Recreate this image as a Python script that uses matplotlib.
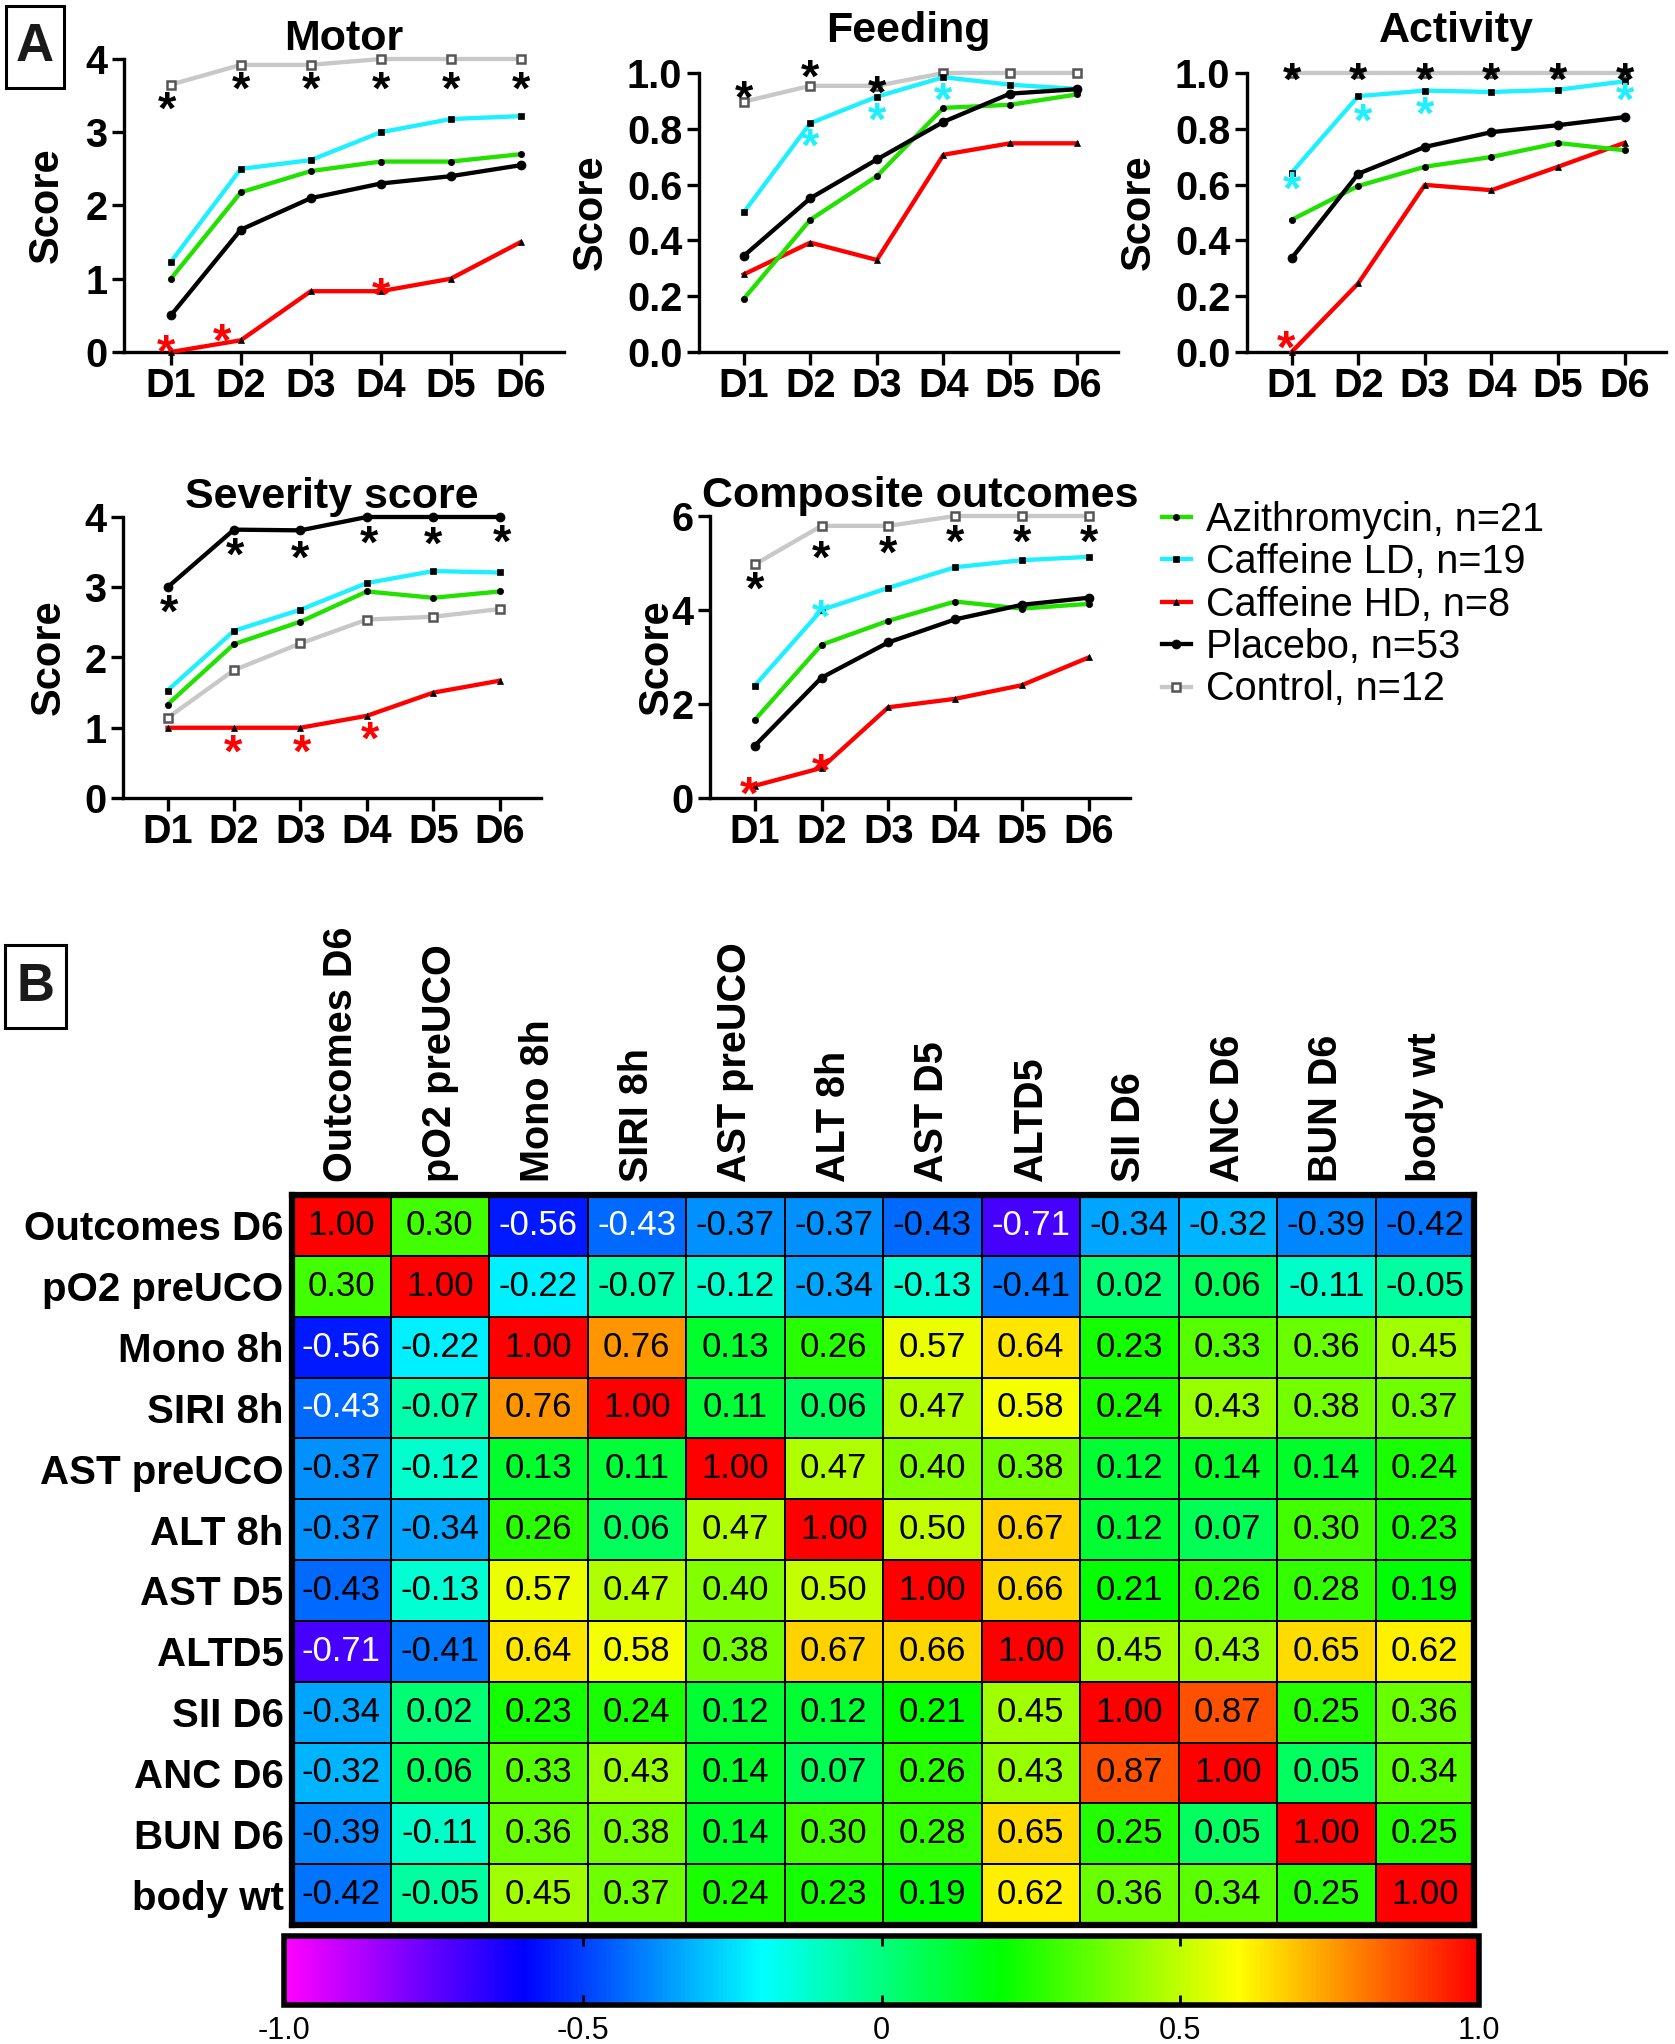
import matplotlib
matplotlib.use('Agg')
import matplotlib.pyplot as plt
import numpy as np
from matplotlib.colors import LinearSegmentedColormap
from matplotlib.patches import Rectangle

plt.rcParams['font.family'] = ['Liberation Sans', 'DejaVu Sans']
plt.rcParams['font.weight'] = 'bold'

# ---------------- data, panel A ----------------
days = [1, 2, 3, 4, 5, 6]
day_labels = ['D1', 'D2', 'D3', 'D4', 'D5', 'D6']
groups = ['azi', 'cafld', 'cafhd', 'placebo', 'control']
group_labels = ['Azithromycin, n=21', 'Caffeine LD, n=19', 'Caffeine HD, n=8',
                'Placebo, n=53', 'Control, n=12']

motor_azi = [1.0, 2.18, 2.47, 2.6, 2.6, 2.7]
motor_cafld = [1.23, 2.5, 2.62, 3.0, 3.18, 3.22]
motor_cafhd = [0.0, 0.16, 0.83, 0.83, 1.0, 1.5]
motor_placebo = [0.5, 1.67, 2.1, 2.3, 2.4, 2.55]
motor_control = [3.65, 3.92, 3.92, 4.0, 4.0, 4.0]

feed_azi = [0.19, 0.474, 0.63, 0.875, 0.886, 0.923]
feed_cafld = [0.50, 0.82, 0.915, 0.985, 0.958, 0.943]
feed_cafhd = [0.278, 0.392, 0.33, 0.707, 0.748, 0.748]
feed_placebo = [0.344, 0.551, 0.69, 0.825, 0.926, 0.942]
feed_control = [0.897, 0.954, 0.954, 1.0, 1.0, 1.0]

act_azi = [0.474, 0.595, 0.664, 0.699, 0.749, 0.723]
act_cafld = [0.643, 0.917, 0.937, 0.932, 0.94, 0.97]
act_cafhd = [0.0, 0.246, 0.599, 0.58, 0.664, 0.75]
act_placebo = [0.336, 0.639, 0.735, 0.788, 0.813, 0.842]
act_control = [1.0, 1.0, 1.0, 1.0, 1.0, 1.0]

sev_azi = [1.33, 2.19, 2.51, 2.94, 2.85, 2.94]
sev_cafld = [1.53, 2.38, 2.68, 3.06, 3.23, 3.21]
sev_cafhd = [1.0, 1.0, 1.0, 1.17, 1.5, 1.67]
sev_placebo = [3.0, 3.82, 3.81, 4.0, 4.0, 4.0]
sev_control = [1.14, 1.82, 2.2, 2.54, 2.58, 2.69]

comp_azi = [1.66, 3.26, 3.77, 4.18, 4.03, 4.13]
comp_cafld = [2.39, 4.0, 4.47, 4.91, 5.06, 5.13]
comp_cafhd = [0.26, 0.64, 1.93, 2.11, 2.40, 2.99]
comp_placebo = [1.11, 2.56, 3.31, 3.80, 4.11, 4.26]
comp_control = [4.97, 5.79, 5.79, 6.0, 6.0, 6.0]

# significance asterisks: (x, y, colour)
motor_stars = [(0.94, 3.50, 'k'), (2, 3.77, 'k'), (3, 3.77, 'k'), (4, 3.77, 'k'),
               (5, 3.77, 'k'), (6, 3.77, 'k'),
               (0.93, 0.17, 'r'), (1.73, 0.33, 'r'), (4, 0.95, 'r')]
feed_stars = [(1, 0.958, 'k'), (2, 1.032, 'k'), (3, 0.974, 'k'),
              (2, 0.783, 'c'), (3, 0.878, 'c'), (4, 0.949, 'c')]
act_stars = [(1, 1.02, 'k'), (2, 1.02, 'k'), (3, 1.02, 'k'), (4, 1.02, 'k'),
             (5, 1.02, 'k'), (6, 1.02, 'k'),
             (1, 0.629, 'c'), (2.07, 0.875, 'c'), (3, 0.901, 'c'), (6, 0.95, 'c'),
             (0.91, 0.06, 'r')]
sev_stars = [(1.03, 2.83, 'k'), (2.02, 3.64, 'k'), (2.99, 3.60, 'k'), (4.04, 3.82, 'k'),
             (5, 3.80, 'k'), (6.03, 3.83, 'k'),
             (1.99, 0.84, 'r'), (3.02, 0.84, 'r'), (4.05, 1.03, 'r')]
comp_stars = [(1, 4.72, 'k'), (2, 5.38, 'k'), (3, 5.49, 'k'), (4, 5.72, 'k'),
              (5, 5.72, 'k'), (6, 5.72, 'k'),
              (2, 4.13, 'c'),
              (0.91, 0.35, 'r'), (1.99, 0.84, 'r')]

# ---------------- data, panel B ----------------
var_labels = ['Outcomes D6', 'pO2 preUCO', 'Mono 8h', 'SIRI 8h', 'AST preUCO', 'ALT 8h',
              'AST D5', 'ALTD5', 'SII D6', 'ANC D6', 'BUN D6', 'body wt']
corr = np.array([
    [1.00, 0.30, -0.56, -0.43, -0.37, -0.37, -0.43, -0.71, -0.34, -0.32, -0.39, -0.42],
    [0.30, 1.00, -0.22, -0.07, -0.12, -0.34, -0.13, -0.41, 0.02, 0.06, -0.11, -0.05],
    [-0.56, -0.22, 1.00, 0.76, 0.13, 0.26, 0.57, 0.64, 0.23, 0.33, 0.36, 0.45],
    [-0.43, -0.07, 0.76, 1.00, 0.11, 0.06, 0.47, 0.58, 0.24, 0.43, 0.38, 0.37],
    [-0.37, -0.12, 0.13, 0.11, 1.00, 0.47, 0.40, 0.38, 0.12, 0.14, 0.14, 0.24],
    [-0.37, -0.34, 0.26, 0.06, 0.47, 1.00, 0.50, 0.67, 0.12, 0.07, 0.30, 0.23],
    [-0.43, -0.13, 0.57, 0.47, 0.40, 0.50, 1.00, 0.66, 0.21, 0.26, 0.28, 0.19],
    [-0.71, -0.41, 0.64, 0.58, 0.38, 0.67, 0.66, 1.00, 0.45, 0.43, 0.65, 0.62],
    [-0.34, 0.02, 0.23, 0.24, 0.12, 0.12, 0.21, 0.45, 1.00, 0.87, 0.25, 0.36],
    [-0.32, 0.06, 0.33, 0.43, 0.14, 0.07, 0.26, 0.43, 0.87, 1.00, 0.05, 0.34],
    [-0.39, -0.11, 0.36, 0.38, 0.14, 0.30, 0.28, 0.65, 0.25, 0.05, 1.00, 0.25],
    [-0.42, -0.05, 0.45, 0.37, 0.24, 0.23, 0.19, 0.62, 0.36, 0.34, 0.25, 1.00],
])
white_cells = [(0, 2), (2, 0), (0, 3), (3, 0), (0, 7), (7, 0)]
cbar_ticks = [-1.0, -0.5, 0, 0.5, 1.0]
cbar_ticklabels = ['-1.0', '-0.5', '0', '0.5', '1.0']

# ---------------- styles ----------------
styles = {
    'azi': dict(color='#22e000', marker='o', ms=4.5, mfc='k', mec='k', mew=0.5),
    'cafld': dict(color='#1ef0ff', marker='s', ms=4.5, mfc='k', mec='k', mew=0.5),
    'cafhd': dict(color='#ff0000', marker='^', ms=4.5, mfc='k', mec='k', mew=0.5),
    'placebo': dict(color='k', marker='o', ms=6.5, mfc='k', mec='k', mew=0.5),
    'control': dict(color='#c8c8c8', marker='s', ms=6, mfc='white', mec='#555555', mew=1.8),
}
draw_order = ['control', 'cafhd', 'azi', 'cafld', 'placebo']
star_colors = {'k': 'black', 'c': '#1ef0ff', 'r': '#ff0000'}

W, H = 1675, 2044
fig = plt.figure(figsize=(W / 100, H / 100), dpi=100)


def px_axes(left, top, right, bottom):
    return fig.add_axes([left / W, 1 - bottom / H, (right - left) / W, (bottom - top) / H])


STAR_FS = 34
panels = [
    ('Motor', [motor_azi, motor_cafld, motor_cafhd, motor_placebo, motor_control], motor_stars,
     (124, 59, 564, 352), 4, [0, 1, 2, 3, 4], ['0', '1', '2', '3', '4'], 6.5, 67),
    ('Feeding', [feed_azi, feed_cafld, feed_cafhd, feed_placebo, feed_control], feed_stars,
     (699, 73, 1118, 352), 1, [0, 0.2, 0.4, 0.6, 0.8, 1.0],
     ['0.0', '0.2', '0.4', '0.6', '0.8', '1.0'], 22, 611),
    ('Activity', [act_azi, act_cafld, act_cafhd, act_placebo, act_control], act_stars,
     (1247, 73, 1666, 352), 1, [0, 0.2, 0.4, 0.6, 0.8, 1.0],
     ['0.0', '0.2', '0.4', '0.6', '0.8', '1.0'], 22, 1159),
    ('Severity score', [sev_azi, sev_cafld, sev_cafhd, sev_placebo, sev_control], sev_stars,
     (123, 517, 541, 798), 4, [0, 1, 2, 3, 4], ['0', '1', '2', '3', '4'], 6.5, 69),
    ('Composite outcomes', [comp_azi, comp_cafld, comp_cafhd, comp_placebo, comp_control],
     comp_stars, (710, 516, 1130, 798), 6, [0, 2, 4, 6], ['0', '2', '4', '6'], 6.5, 677),
]

legend_handles = {}
for title, series, stars, rect, ymax, yt, ytl, tpad, label_px in panels:
    ax = px_axes(*rect)
    data = dict(zip(groups, series))
    for i, key in enumerate(draw_order):
        st = styles[key]
        ln, = ax.plot(days, data[key], lw=3.1, clip_on=False, zorder=2 + i, **st)
        legend_handles[key] = ln
    for x, y, c in stars:
        ax.annotate('*', (x, y), xytext=(0, -0.585 * STAR_FS), textcoords='offset points',
                    ha='center', va='baseline', fontsize=STAR_FS, fontweight='bold',
                    color=star_colors[c], annotation_clip=False, zorder=10)
    ax.set_xlim(0.33, 6.62)
    ax.set_ylim(0, ymax)
    ax.set_xticks(days)
    ax.set_xticklabels(day_labels)
    ax.set_yticks(yt)
    ax.set_yticklabels(ytl)
    for s in ['top', 'right']:
        ax.spines[s].set_visible(False)
    for s in ['left', 'bottom']:
        ax.spines[s].set_linewidth(2.4)
    ax.tick_params(axis='both', direction='out', length=9, width=2.4, labelsize=28.5)
    ax.tick_params(axis='x', pad=2)
    ax.tick_params(axis='y', pad=3)
    ax.set_title(title, fontsize=31, fontweight='bold', pad=tpad)
    ax.set_ylabel('Score', fontsize=30, fontweight='bold')
    ax.yaxis.set_label_coords((label_px - rect[0]) / (rect[2] - rect[0]), 0.5)

fig.legend([legend_handles[g] for g in groups], group_labels, loc='upper left',
           bbox_to_anchor=(1162 / W, 1 - 501 / H), frameon=False,
           prop={'size': 28.5, 'weight': 'normal'}, handlelength=0.72, handletextpad=0.38,
           labelspacing=0.11, borderpad=0, borderaxespad=0)

# panel letters
for letter, (x0, y0, x1, y1) in [('A', (6, 6, 64, 88)), ('B', (5, 945, 66, 1028))]:
    fig.patches.append(Rectangle((x0 / W, 1 - y1 / H), (x1 - x0) / W, (y1 - y0) / H,
                                 transform=fig.transFigure, fill=False, ec='black', lw=2.2))
    fig.text((x0 + x1) / 2 / W, 1 - (y0 + y1) / 2 / H, letter, fontsize=38, fontweight='bold',
             ha='center', va='center', color='#1a1a1a')

# ---------------- panel B heatmap ----------------
cmap = LinearSegmentedColormap.from_list(
    'corr', [(0.0, '#ff00ff'), (0.2, '#0000ff'), (0.4, '#00ffff'), (0.6, '#00ff00'),
             (0.8, '#ffff00'), (1.0, '#ff0000')])

hax = px_axes(292, 1195, 1474, 1925)
n = len(var_labels)
mesh = hax.pcolormesh(np.arange(n + 1), np.arange(n + 1), corr, cmap=cmap, vmin=-1, vmax=1,
                      edgecolors='black', linewidth=1.2)
hax.set_xlim(0, n)
hax.set_ylim(n, 0)
for i in range(n):
    for j in range(n):
        tc = 'white' if (i, j) in white_cells else 'black'
        hax.text(j + 0.5, i + 0.5, f'{corr[i, j]:.2f}', ha='center', va='center',
                 fontsize=25, fontweight='normal', color=tc)
hax.xaxis.tick_top()
hax.set_xticks(np.arange(n) + 0.5)
hax.set_xticklabels(var_labels, rotation=90, fontsize=28.5, fontweight='bold')
hax.set_yticks(np.arange(n) + 0.5)
hax.set_yticklabels(var_labels, fontsize=29, fontweight='bold')
hax.tick_params(length=0)
hax.tick_params(axis='x', pad=9)
hax.tick_params(axis='y', pad=6)
for s in hax.spines.values():
    s.set_linewidth(4.5)

cax = px_axes(284, 1936, 1479, 2005)
cb = fig.colorbar(mesh, cax=cax, orientation='horizontal')
cb.outline.set_linewidth(4)
cb.set_ticks(cbar_ticks)
cb.set_ticklabels(cbar_ticklabels)
cax.tick_params(axis='x', direction='in', top=True, bottom=True, length=7, width=2,
                labelsize=22, pad=8)
for t in cax.get_xticklabels():
    t.set_fontweight('normal')

fig.savefig('out.png', dpi=100)
